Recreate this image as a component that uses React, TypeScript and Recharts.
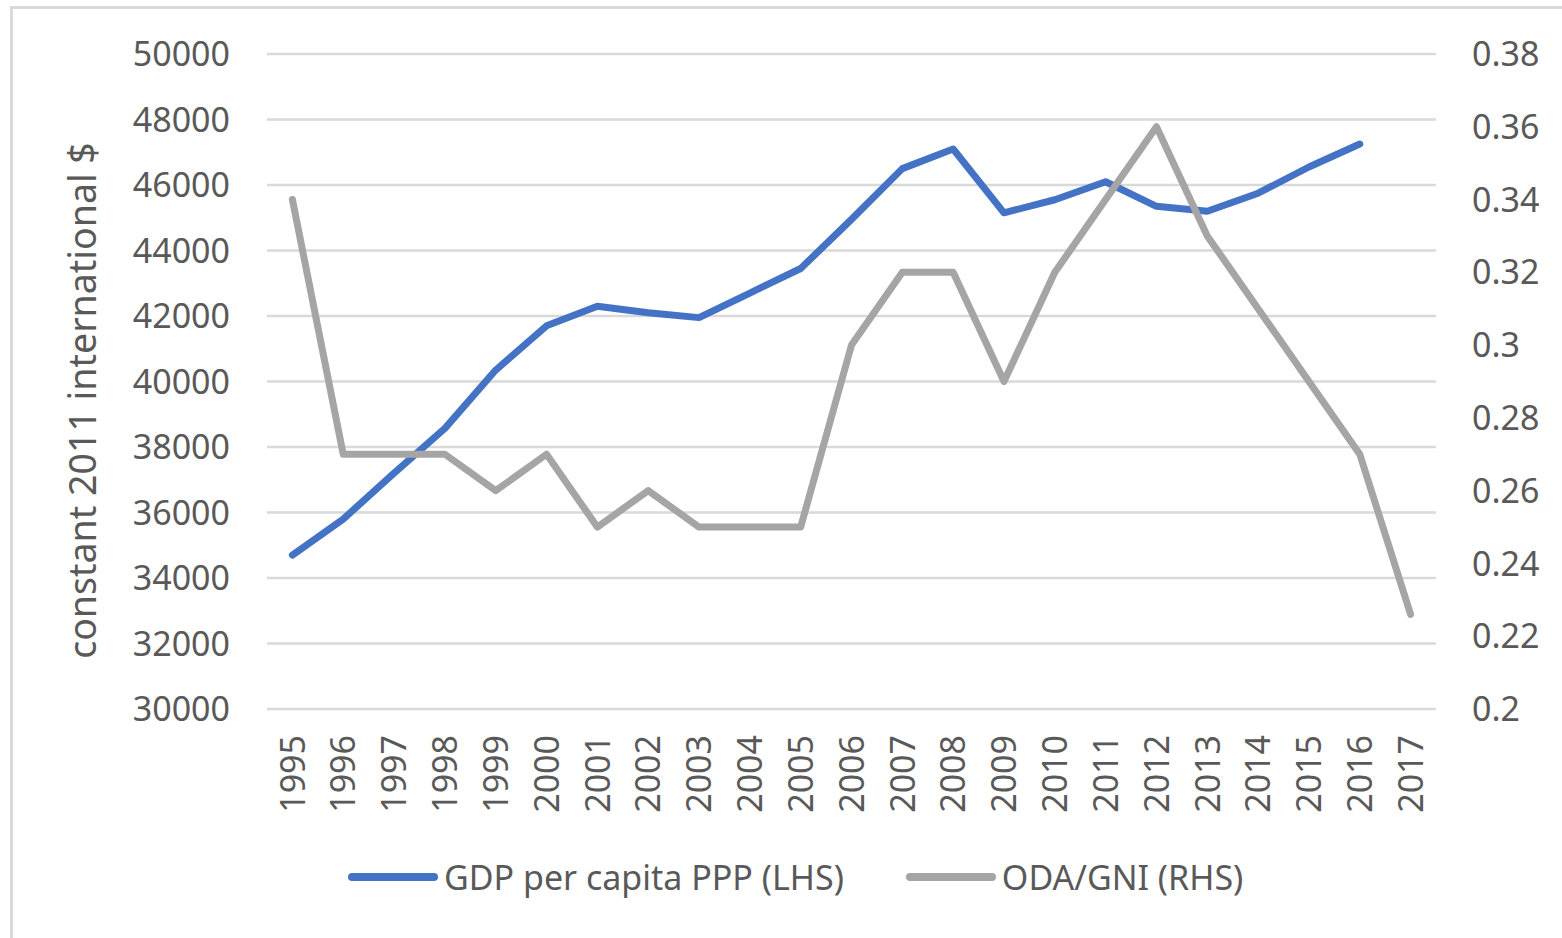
import { CartesianGrid, Line, LineChart, XAxis, YAxis } from 'recharts'

const YEARS = [
  '1995', '1996', '1997', '1998', '1999', '2000', '2001', '2002', '2003', '2004', '2005', '2006',
  '2007', '2008', '2009', '2010', '2011', '2012', '2013', '2014', '2015', '2016', '2017',
]

// GDP per capita PPP, constant 2011 international $ (no 2017 value)
const GDP = [
  34700, 35800, 37200, 38570, 40350, 41700, 42300, 42100, 41950, 42700, 43450, 44950,
  46500, 47100, 45150, 45550, 46100, 45350, 45200, 45750, 46550, 47250, null,
]

// ODA / GNI ratio
const ODA = [
  0.34, 0.27, 0.27, 0.27, 0.26, 0.27, 0.25, 0.26, 0.25, 0.25, 0.25, 0.3,
  0.32, 0.32, 0.29, 0.32, 0.34, 0.36, 0.33, 0.31, 0.29, 0.27, 0.226,
]

const GDP_TICKS = [30000, 32000, 34000, 36000, 38000, 40000, 42000, 44000, 46000, 48000, 50000]
const ODA_TICKS = [0.2, 0.22, 0.24, 0.26, 0.28, 0.3, 0.32, 0.34, 0.36, 0.38]

const GDP_LABEL = 'GDP per capita PPP (LHS)'
const ODA_LABEL = 'ODA/GNI (RHS)'
const Y_TITLE = 'constant 2011 international $'

const BLUE = '#4472C4'
const GREY = '#A5A5A5'
const TEXT = '#595959'
const FONT = '"Noto Sans", sans-serif'

const data = YEARS.map((year, i) => ({ year, gdp: GDP[i], oda: ODA[i] }))

const fmtOda = (v: number) => String(Number(v.toFixed(2)))

function YearTick({ x, y, payload }: any) {
  return (
    <text
      x={x}
      y={y}
      dy="0.36em"
      transform={`rotate(-90, ${x}, ${y})`}
      textAnchor="end"
      fill={TEXT}
      fontSize={34}
      fontFamily={FONT}
    >
      {payload.value}
    </text>
  )
}

function AxisTitle({ viewBox }: any) {
  const cx = 96
  const cy = viewBox.y + viewBox.height / 2 + 19
  return (
    <text
      x={cx}
      y={cy}
      transform={`rotate(-90, ${cx}, ${cy})`}
      textAnchor="middle"
      fill={TEXT}
      fontSize={37.5}
      fontFamily={FONT}
    >
      {Y_TITLE}
    </text>
  )
}

function LegendItem({ color, label }: { color: string; label: string }) {
  return (
    <div style={{ display: 'flex', alignItems: 'center' }}>
      <div style={{ width: 90, height: 8, borderRadius: 4, background: color, marginRight: 6 }} />
      <span style={{ fontSize: 34, color: TEXT, fontFamily: FONT, whiteSpace: 'nowrap' }}>{label}</span>
    </div>
  )
}

export default function App() {
  const tickStyle = { fontSize: 34, fill: TEXT, fontFamily: FONT }

  return (
    <div
      style={{
        position: 'absolute',
        left: 0,
        top: 0,
        width: 1562,
        height: 938,
        overflow: 'hidden',
        background: '#fff',
      }}
    >
      {/* chart frame, cut off at right and bottom like the source */}
      <div
        style={{
          position: 'absolute',
          left: 10,
          top: 6,
          width: 1700,
          height: 1100,
          border: '3px solid #d9d9d9',
        }}
      />
      <div style={{ position: 'absolute', left: 0, top: 0 }}>
        <LineChart
          width={1562}
          height={938}
          data={data}
          margin={{ top: 54, right: 0, bottom: 109, left: 0 }}
        >
          <CartesianGrid yAxisId="left" vertical={false} stroke="#d9d9d9" strokeWidth={2.5} />
          <XAxis
            dataKey="year"
            interval={0}
            height={120}
            padding={{ left: 25.4, right: 25.4 }}
            axisLine={false}
            tickLine={false}
            tickSize={0}
            tickMargin={26}
            tick={<YearTick />}
          />
          <YAxis
            yAxisId="left"
            width={267}
            domain={[30000, 50000]}
            ticks={GDP_TICKS}
            axisLine={false}
            tickLine={false}
            tickSize={0}
            tickMargin={37}
            tick={tickStyle}
            label={{ content: AxisTitle }}
          />
          <YAxis
            yAxisId="right"
            orientation="right"
            width={126}
            domain={[0.2, 0.38]}
            ticks={ODA_TICKS}
            tickFormatter={fmtOda}
            axisLine={false}
            tickLine={false}
            tickSize={0}
            tickMargin={36}
            tick={tickStyle}
          />
          <Line
            yAxisId="left"
            type="linear"
            dataKey="gdp"
            name={GDP_LABEL}
            stroke={BLUE}
            strokeWidth={7}
            strokeLinecap="round"
            strokeLinejoin="round"
            dot={false}
            isAnimationActive={false}
          />
          <Line
            yAxisId="right"
            type="linear"
            dataKey="oda"
            name={ODA_LABEL}
            stroke={GREY}
            strokeWidth={7}
            strokeLinecap="round"
            strokeLinejoin="round"
            dot={false}
            isAnimationActive={false}
          />
        </LineChart>
      </div>
      <div
        style={{
          position: 'absolute',
          left: 348,
          top: 854,
          display: 'flex',
          alignItems: 'center',
          gap: 62,
          lineHeight: '46px',
        }}
      >
        <LegendItem color={BLUE} label={GDP_LABEL} />
        <LegendItem color={GREY} label={ODA_LABEL} />
      </div>
    </div>
  )
}
